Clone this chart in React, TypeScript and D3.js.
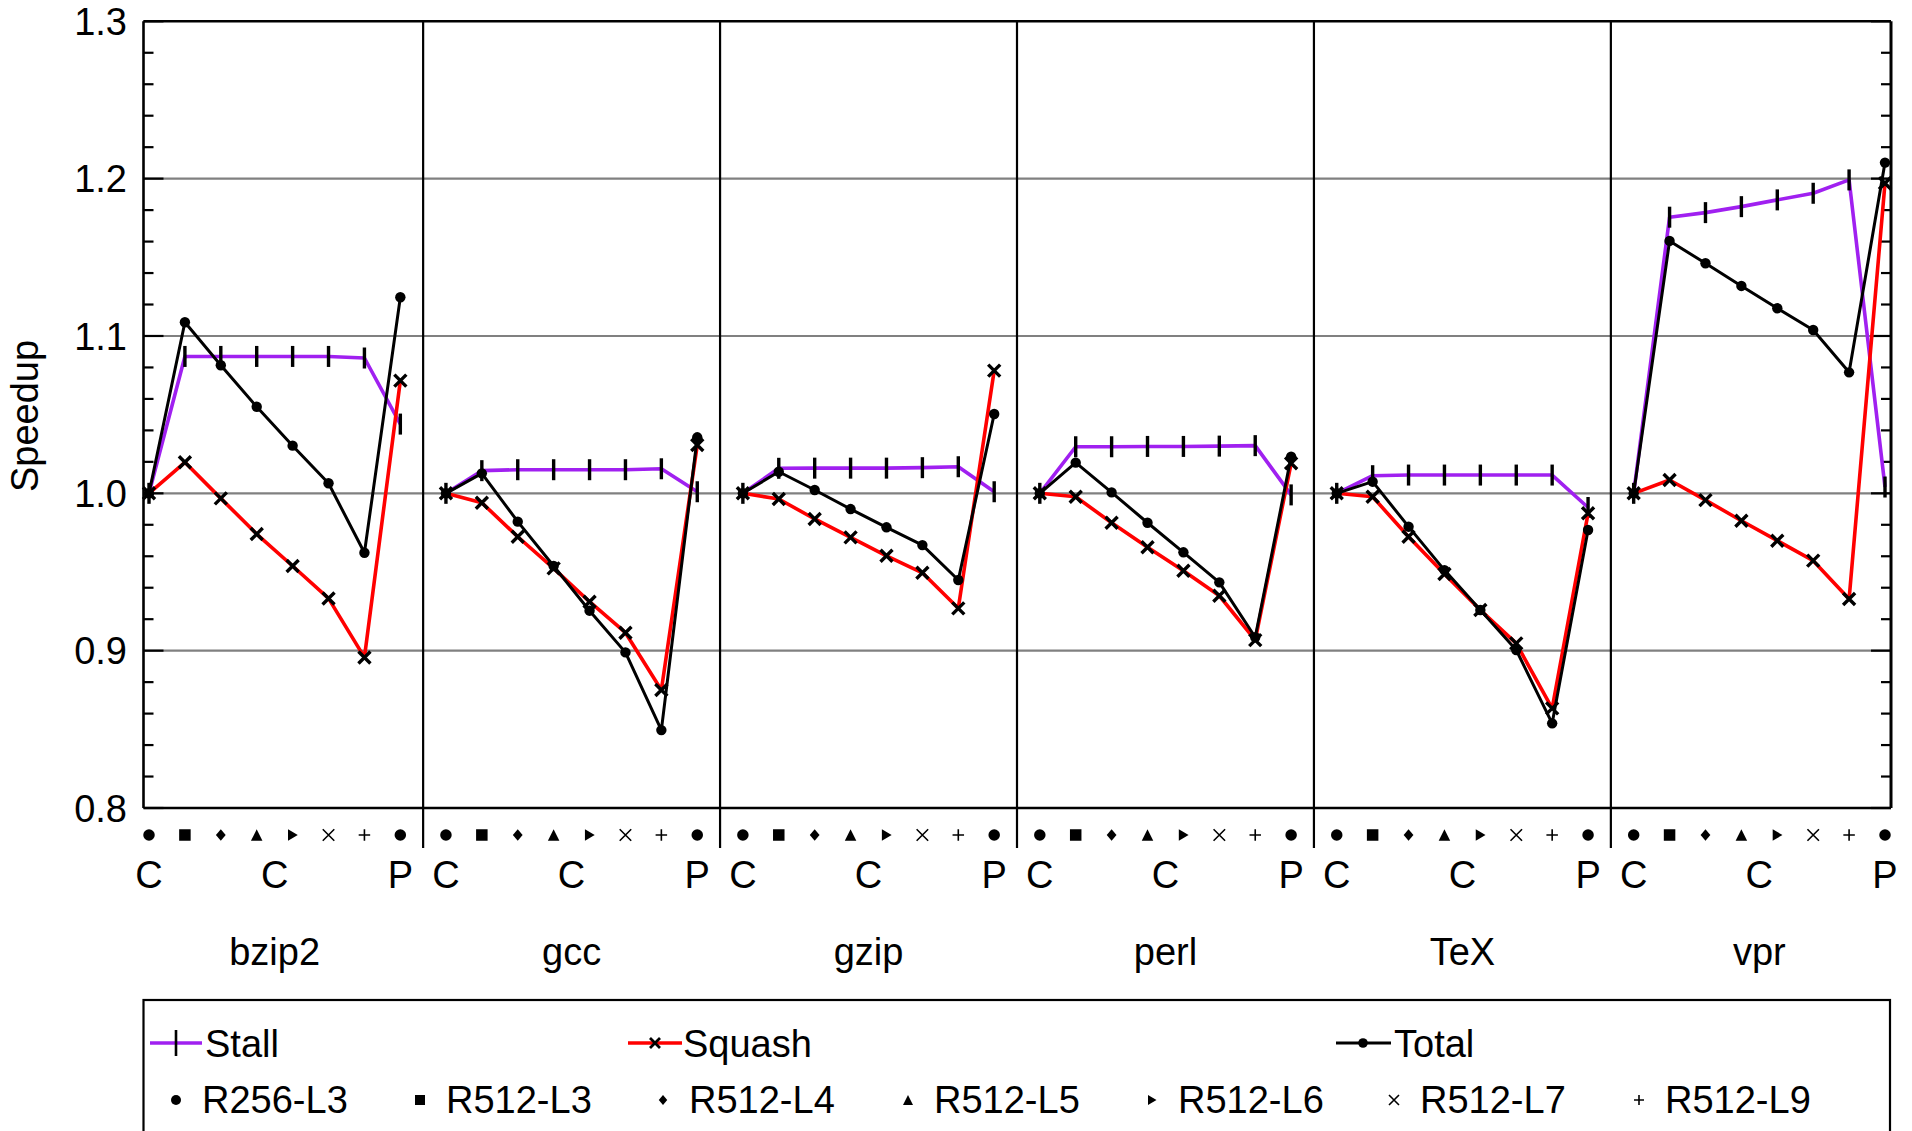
import React from "react";
import * as d3 from "d3";

// Benchmarks (one panel each) and the processor configurations along each panel
const benchmarks = ["bzip2", "gcc", "gzip", "perl", "TeX", "vpr"];
const configs = ["R256-L3", "R512-L3", "R512-L4", "R512-L5", "R512-L6", "R512-L7", "R512-L9", "R256-L3"];
const configTickLabels = [
  { slot: 0, text: "C" },
  { slot: 3.5, text: "C" },
  { slot: 7, text: "P" },
];
const yTicks = [0.8, 0.9, 1.0, 1.1, 1.2, 1.3];

// Speedup per benchmark, in configuration order
const stallSpeedup = [
  [1.0, 1.087, 1.087, 1.087, 1.087, 1.087, 1.086, 1.044],
  [1.0, 1.0144, 1.015, 1.015, 1.015, 1.015, 1.0156, 1.001],
  [1.0, 1.0159, 1.016, 1.016, 1.016, 1.0163, 1.0169, 1.001],
  [1.0, 1.0296, 1.0296, 1.0298, 1.0298, 1.03, 1.0303, 0.999],
  [1.0, 1.0112, 1.0116, 1.0116, 1.0116, 1.0116, 1.0116, 0.991],
  [1.0, 1.1755, 1.1784, 1.1822, 1.1865, 1.1907, 1.1992, 1.004],
];
const squashSpeedup = [
  [1.0, 1.0197, 0.9968, 0.9741, 0.9538, 0.9332, 0.8957, 1.0716],
  [1.0, 0.994, 0.9724, 0.9523, 0.9311, 0.9114, 0.875, 1.0307],
  [1.0, 0.9964, 0.9837, 0.972, 0.9603, 0.9495, 0.9269, 1.078],
  [1.0, 0.9978, 0.9813, 0.9657, 0.9508, 0.9349, 0.9067, 1.0191],
  [1.0, 0.9978, 0.9724, 0.9487, 0.9258, 0.9046, 0.8633, 0.9873],
  [1.0, 1.0085, 0.9957, 0.9826, 0.9699, 0.9572, 0.9328, 1.1971],
];
const totalSpeedup = [
  [1.0, 1.1087, 1.0814, 1.055, 1.0303, 1.0064, 0.9622, 1.1246],
  [1.0, 1.0127, 0.982, 0.9538, 0.9254, 0.8989, 0.8495, 1.0356],
  [1.0, 1.0137, 1.0021, 0.99, 0.9784, 0.9671, 0.9449, 1.0504],
  [1.0, 1.0195, 1.0006, 0.9813, 0.9625, 0.9434, 0.9085, 1.0233],
  [1.0, 1.0074, 0.9788, 0.9512, 0.9258, 0.9004, 0.8538, 0.9767],
  [1.0, 1.1604, 1.1462, 1.1318, 1.1176, 1.1038, 1.0769, 1.2102],
];

const FONT = "'Liberation Sans', Arial, Helvetica, sans-serif";
const PURPLE = "#A020F0";
const RED = "#FF0000";

const W = 1912;
const H = 1131;
const plotLeft = 143.5;
const plotRight = 1891;
const plotTop = 21.3;
const plotBottom = 808;
const GROUP = 8.27; // slots per benchmark panel (8 points plus a gap)

const lastSlot = (benchmarks.length - 1) * GROUP + configs.length - 1;
const x = d3.scaleLinear().domain([0, lastSlot]).range([149, 1885]);
const y = d3.scaleLinear().domain([0.8, 1.3]).range([plotBottom, plotTop]);
const slotOf = (p: number, i: number) => p * GROUP + i;

const lineGen = d3
  .line<[number, number]>()
  .x((d) => d[0])
  .y((d) => d[1]);

function seriesPoints(values: number[], p: number): [number, number][] {
  return values.map((v, i) => [x(slotOf(p, i)), y(v)]);
}

// Small symbols used on the category row and in the legend
function ConfigSymbol({ idx, cx, cy, s }: { idx: number; cx: number; cy: number; s: number }) {
  const h = s / 2;
  switch (idx) {
    case 0:
    case 7:
      return <circle cx={cx} cy={cy} r={h} fill="#000" />;
    case 1:
      return <rect x={cx - h} y={cy - h} width={s} height={s} fill="#000" />;
    case 2:
      return <path d={`M${cx},${cy - h}L${cx + h * 0.85},${cy}L${cx},${cy + h}L${cx - h * 0.85},${cy}Z`} fill="#000" />;
    case 3:
      return <path d={`M${cx},${cy - h}L${cx + h},${cy + h}L${cx - h},${cy + h}Z`} fill="#000" />;
    case 4:
      return <path d={`M${cx - h * 0.8},${cy - h}L${cx + h * 0.9},${cy}L${cx - h * 0.8},${cy + h}Z`} fill="#000" />;
    case 5:
      return (
        <path
          d={`M${cx - h},${cy - h}L${cx + h},${cy + h}M${cx - h},${cy + h}L${cx + h},${cy - h}`}
          stroke="#000"
          strokeWidth={1.6}
          fill="none"
        />
      );
    default:
      return (
        <path
          d={`M${cx - h},${cy}L${cx + h},${cy}M${cx},${cy - h}L${cx},${cy + h}`}
          stroke="#000"
          strokeWidth={1.6}
          fill="none"
        />
      );
  }
}

const StallMark = ({ px, py, len = 10.5, w = 3.4 }: { px: number; py: number; len?: number; w?: number }) => (
  <line x1={px} x2={px} y1={py - len} y2={py + len} stroke="#000" strokeWidth={w} />
);
const SquashMark = ({ px, py, a = 6, w = 3.4 }: { px: number; py: number; a?: number; w?: number }) => (
  <path d={`M${px - a},${py - a}L${px + a},${py + a}M${px - a},${py + a}L${px + a},${py - a}`} stroke="#000" strokeWidth={w} />
);
const TotalMark = ({ px, py, r = 5.2 }: { px: number; py: number; r?: number }) => (
  <circle cx={px} cy={py} r={r} fill="#000" />
);

export default function App() {
  const minorTicks = d3.range(0, 26).map((k) => 0.8 + k * 0.02).filter((v) => Math.abs(Math.round(v * 10) - v * 10) > 1e-6);
  const dividers = benchmarks.slice(0, -1).map((_, p) => x(slotOf(p, configs.length - 1) + (GROUP - configs.length + 1) / 2));

  const legendRow2 = configs.slice(0, 7);
  const legendRow2X = [202, 446, 689, 934, 1178, 1420, 1665];

  return (
    <div style={{ position: "absolute", left: 0, top: 0 }}>
      <svg width={W} height={H} style={{ display: "block", background: "#fff" }} fontFamily={FONT}>
        <rect width={W} height={H} fill="#fff" />

        {/* grid lines */}
        {yTicks
          .filter((v) => v > 0.85 && v < 1.25)
          .map((v) => (
            <line key={v} x1={plotLeft} x2={plotRight} y1={y(v)} y2={y(v)} stroke="#808080" strokeWidth={2.2} />
          ))}

        {/* panel dividers */}
        {dividers.map((dx, k) => (
          <line key={k} x1={dx} x2={dx} y1={plotTop} y2={848} stroke="#000" strokeWidth={2.2} />
        ))}

        {/* frame */}
        <line x1={plotLeft} x2={plotRight} y1={plotTop} y2={plotTop} stroke="#000" strokeWidth={2.6} />
        <line x1={plotLeft} x2={plotRight} y1={plotBottom} y2={plotBottom} stroke="#000" strokeWidth={2.6} />
        <line x1={plotLeft} x2={plotLeft} y1={plotTop} y2={plotBottom} stroke="#000" strokeWidth={2.6} />
        <line x1={plotRight} x2={plotRight} y1={plotTop} y2={plotBottom} stroke="#000" strokeWidth={3} />

        {/* axis ticks, left and right */}
        {yTicks.map((v) => (
          <g key={"M" + v}>
            <line x1={plotLeft} x2={plotLeft + 20} y1={y(v)} y2={y(v)} stroke="#000" strokeWidth={2.2} />
            <line x1={plotRight - 20} x2={plotRight} y1={y(v)} y2={y(v)} stroke="#000" strokeWidth={2.2} />
          </g>
        ))}
        {minorTicks.map((v) => (
          <g key={"m" + v}>
            <line x1={plotLeft} x2={plotLeft + 10} y1={y(v)} y2={y(v)} stroke="#000" strokeWidth={2.2} />
            <line x1={plotRight - 10} x2={plotRight} y1={y(v)} y2={y(v)} stroke="#000" strokeWidth={2.2} />
          </g>
        ))}

        {/* y tick labels */}
        {yTicks.map((v) => (
          <text key={"t" + v} x={127} y={y(v)} dy="0.36em" textAnchor="end" fontSize={38} fill="#000">
            {v.toFixed(1)}
          </text>
        ))}

        <text x={38} y={416} transform="rotate(-90, 38, 416)" textAnchor="middle" fontSize={38} fill="#000">
          Speedup
        </text>

        {/* series */}
        {benchmarks.map((b, p) => {
          const sp = seriesPoints(stallSpeedup[p], p);
          const qp = seriesPoints(squashSpeedup[p], p);
          const tp = seriesPoints(totalSpeedup[p], p);
          return (
            <g key={b}>
              <path d={lineGen(sp) || ""} fill="none" stroke={PURPLE} strokeWidth={3.6} strokeLinejoin="round" />
              {sp.map(([px, py], i) => (
                <StallMark key={i} px={px} py={py} />
              ))}
              <path d={lineGen(qp) || ""} fill="none" stroke={RED} strokeWidth={3.6} strokeLinejoin="round" />
              {qp.map(([px, py], i) => (
                <SquashMark key={i} px={px} py={py} />
              ))}
              <path d={lineGen(tp) || ""} fill="none" stroke="#000" strokeWidth={3} strokeLinejoin="round" />
              {tp.map(([px, py], i) => (
                <TotalMark key={i} px={px} py={py} />
              ))}
            </g>
          );
        })}

        {/* category row: configuration symbols, C/P labels, benchmark names */}
        {benchmarks.map((b, p) => (
          <g key={"cat" + b}>
            {configs.map((c, i) => (
              <ConfigSymbol key={i} idx={i} cx={x(slotOf(p, i))} cy={835} s={11.5} />
            ))}
            {configTickLabels.map((t, k) => (
              <text key={k} x={x(slotOf(p, t.slot))} y={888} textAnchor="middle" fontSize={38} fill="#000">
                {t.text}
              </text>
            ))}
            <text x={x(slotOf(p, 3.5))} y={965} textAnchor="middle" fontSize={38} fill="#000">
              {b}
            </text>
          </g>
        ))}

        {/* legend */}
        <rect x={143.5} y={1000} width={1746.5} height={160} fill="none" stroke="#000" strokeWidth={2.2} />
        <g>
          <line x1={150} x2={202} y1={1043} y2={1043} stroke={PURPLE} strokeWidth={3.6} />
          <StallMark px={176} py={1043} len={13} w={2.6} />
          <text x={205} y={1057} fontSize={38}>Stall</text>

          <line x1={628} x2={682} y1={1043} y2={1043} stroke={RED} strokeWidth={3.6} />
          <SquashMark px={655} py={1043} a={5} w={2.8} />
          <text x={683} y={1057} fontSize={38}>Squash</text>

          <line x1={1336} x2={1391} y1={1043} y2={1043} stroke="#000" strokeWidth={3} />
          <TotalMark px={1363} py={1043} r={4.8} />
          <text x={1394} y={1057} fontSize={38}>Total</text>
        </g>
        {legendRow2.map((c, i) => (
          <g key={"lg" + i}>
            <ConfigSymbol idx={i} cx={legendRow2X[i] - 26} cy={1100} s={10} />
            <text x={legendRow2X[i]} y={1113} fontSize={38}>
              {c}
            </text>
          </g>
        ))}
      </svg>
    </div>
  );
}
